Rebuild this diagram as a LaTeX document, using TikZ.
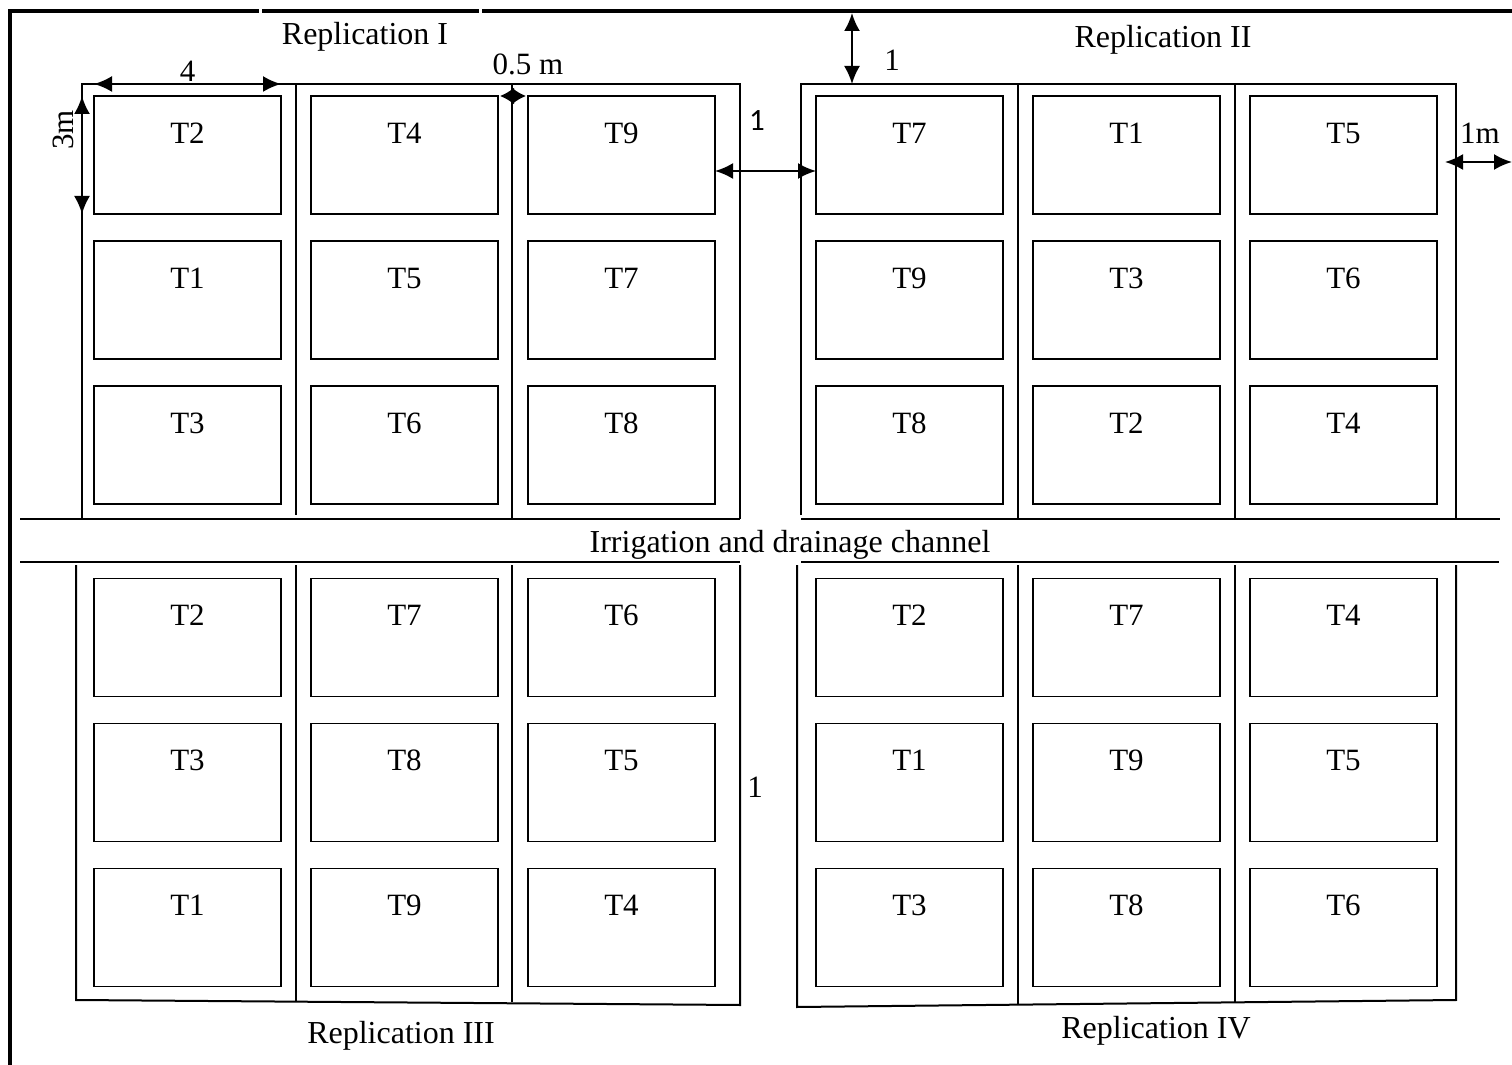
\documentclass[tikz,border=0pt]{standalone}
\usepackage{fontspec}
\setmainfont{Liberation Serif}
\newfontfamily\labelsans{Carlito}
\usetikzlibrary{arrows.meta,positioning}

\begin{document}
\begin{tikzpicture}[
      x=0.5pt, y=-0.5pt,
      node distance=13.5pt and 15pt,
      every node/.style={font=\fontsize{15.5}{18}\selectfont},
      plot/.style={rectangle, draw, line width=0.9pt, minimum width=93.5pt, minimum height=59pt, inner sep=0pt, outer sep=0pt, text height=10.3pt, text depth=22pt},
      border/.style={draw, line width=1pt},
      frame/.style={draw, line width=2pt},
      dimline/.style={draw, line width=1.1pt, {Latex[length=9pt,width=8pt]}-{Latex[length=9pt,width=8pt]}},
      shortdim/.style={draw, line width=1.1pt, {Latex[length=7pt,width=8.5pt]}-{Latex[length=7pt,width=8.5pt]}},
      dimlabel/.style={inner sep=1pt},
      title/.style={font=\fontsize{16}{19}\selectfont}
   ]
   \useasboundingbox (0,0) rectangle (1512,1065);

   % Outer frame
   \draw[frame] (10,1065) -- (10,11) -- (259,11);
   \draw[frame] (262,11) -- (479,11);
   \draw[frame] (482,11) -- (1512,11);

   % Replication I
   \node [plot] at (187.5,155) (aT2) {T2};
   \node [plot, right=of aT2] (aT4) {T4};
   \node [plot, right=of aT4] (aT9) {T9};
   \node [plot, below=of aT2] (aT1) {T1};
   \node [plot, right=of aT1] (aT5) {T5};
   \node [plot, right=of aT5] (aT7) {T7};
   \node [plot, below=of aT1] (aT3) {T3};
   \node [plot, right=of aT3] (aT6) {T6};
   \node [plot, right=of aT6] (aT8) {T8};

   % Replication II
   \node [plot] at (909.5,155) (bT7) {T7};
   \node [plot, right=of bT7] (bT1) {T1};
   \node [plot, right=of bT1] (bT5) {T5};
   \node [plot, below=of bT7] (bT9) {T9};
   \node [plot, right=of bT9] (bT3) {T3};
   \node [plot, right=of bT3] (bT6) {T6};
   \node [plot, below=of bT9] (bT8) {T8};
   \node [plot, right=of bT8] (bT2) {T2};
   \node [plot, right=of bT2] (bT4) {T4};

   % Replication III
   \node [plot] at (187.5,637.5) (cT2) {T2};
   \node [plot, right=of cT2] (cT7) {T7};
   \node [plot, right=of cT7] (cT6) {T6};
   \node [plot, below=of cT2] (cT3) {T3};
   \node [plot, right=of cT3] (cT8) {T8};
   \node [plot, right=of cT8] (cT5) {T5};
   \node [plot, below=of cT3] (cT1) {T1};
   \node [plot, right=of cT1] (cT9) {T9};
   \node [plot, right=of cT9] (cT4) {T4};

   % Replication IV
   \node [plot] at (909.5,637.5) (dT2) {T2};
   \node [plot, right=of dT2] (dT7) {T7};
   \node [plot, right=of dT7] (dT4) {T4};
   \node [plot, below=of dT2] (dT1) {T1};
   \node [plot, right=of dT1] (dT9) {T9};
   \node [plot, right=of dT9] (dT5) {T5};
   \node [plot, below=of dT1] (dT3) {T3};
   \node [plot, right=of dT3] (dT8) {T8};
   \node [plot, right=of dT8] (dT6) {T6};

   % Block borders
   \draw[border] (82,519) -- (82,84) -- (740,84) -- (740,519);
   \draw[border] (296,84) -- (296,515);
   \draw[border] (512,84) -- (512,519);
   \draw[border] (801,515) -- (801,84) -- (1456,84) -- (1456,519);
   \draw[border] (1018,84) -- (1018,519);
   \draw[border] (1235,84) -- (1235,519);
   \draw[border] (76,565) -- (76,1000) -- (740,1005) -- (740,565);
   \draw[border] (296,565) -- (296,1001);
   \draw[border] (512,565) -- (512,1002);
   \draw[border] (797,565) -- (797,1007) -- (1456,1000) -- (1456,565);
   \draw[border] (1018,565) -- (1018,1004);
   \draw[border] (1235,565) -- (1235,1002);

   % Channel
   \draw[border] (20,519) -- (740,519);
   \draw[border] (801,519) -- (1500,519);
   \draw[border] (20,562) -- (740,562);
   \draw[border] (801,562) -- (1499,562);
   \node [title] (channel) at (790,545) {Irrigation and drainage channel};

   % Dimensions
   \coordinate (markTop) at (852,13);
   \coordinate (markBot) at (852,84);
   \coordinate (eastEnd) at (1512,162);
   \path [dimline] ([yshift=6pt]aT2.north west) -- ([yshift=6pt]aT2.north east);
   \path [dimline] ([xshift=-6pt]aT2.north west) -- ([xshift=-6pt]aT2.south west);
   \path [shortdim] ([xshift=1pt]aT4.north east) -- ([xshift=-1pt]aT9.north west);
   \path [dimline] ([yshift=-8pt]aT9.east) -- ([yshift=-8pt]bT7.west);
   \path [dimline] (markTop) -- (markBot);
   \path [dimline] ([shift={(4pt,-3.5pt)}]bT5.east) -- (eastEnd);

   % Labels
   \node [dimlabel, above=0pt of aT2.north, yshift=6pt] (lenLabel) {4};
   \node [dimlabel, rotate=90] at (63,130) (widLabel) {3m};
   \node [dimlabel] at (528,64) (pathLabel) {0.5 m};
   \node [dimlabel, font=\labelsans\fontsize{15.5}{18}\selectfont] at (757,121) (gapLabel) {1};
   \node [dimlabel] at (892,60) (topLabel) {1};
   \node [dimlabel] at (1480,133) (edgeLabel) {1m};
   \node [dimlabel] at (755,787) (midLabel) {1};
   \node [title] at (365,37) (repI) {Replication I};
   \node [title] at (1163,40) (repII) {Replication II};
   \node [title] at (401,1036) (repIII) {Replication III};
   \node [title] at (1156,1031) (repIV) {Replication IV};
\end{tikzpicture}
\end{document}
